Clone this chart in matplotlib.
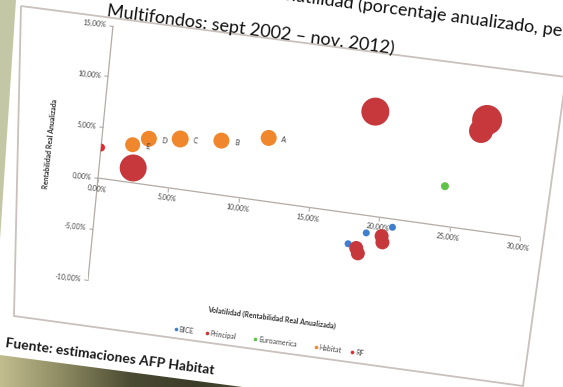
import numpy as np
import matplotlib
matplotlib.use("Agg")
import matplotlib.pyplot as plt
from matplotlib.transforms import Affine2D
from matplotlib.patches import Polygon
from matplotlib.colors import LinearSegmentedColormap
from mpl_toolkits.axisartist import floating_axes
from mpl_toolkits.axisartist.grid_finder import FixedLocator, DictFormatter

plt.rcParams['font.family'] = ['Lato', 'DejaVu Sans']

# volatilidad (x, %) / rentabilidad real (y, %) / tamaño de burbuja
bice_x = [18.0, 19.2, 21.0]
bice_y = [-3.0, -1.7, -0.8]
bice_b = [7, 7, 7]

principal_x = [2.4, 19.0, 26.9, 26.55, 18.6, 18.75, 20.3, 20.4]
principal_y = [1.45, 10.2, 10.9, 9.75, -3.3, -3.8, -1.8, -2.4]
principal_b = [27, 28, 30, 24, 14, 14, 14, 14]

euro_x = [24.4]
euro_y = [3.9]
euro_b = [8]

habitat_x = [11.7, 8.4, 5.5, 3.3, 2.2]
habitat_y = [6.2, 5.3, 4.9, 4.5, 3.7]
habitat_b = [16, 16, 17, 16, 15]
habitat_lbl = ["A", "B", "C", "D", "E"]

rf_x = [0.0]
rf_y = [3.0]
rf_b = [8]

x_ticks = [0, 5, 10, 15, 20, 25, 30]
y_ticks = [-10, -5, 0, 5, 10, 15]

series = [
    ("BICE", bice_x, bice_y, bice_b, "#3f7fcf"),
    ("Principal", principal_x, principal_y, principal_b, "#c6383b"),
    ("Euroamerica", euro_x, euro_y, euro_b, "#5fc24a"),
    ("Habitat", habitat_x, habitat_y, habitat_b, "#f0872c"),
    ("RF", rf_x, rf_y, rf_b, "#e8262c"),
]

W, H = 563, 387
fig = plt.figure(figsize=(W / 100, H / 100), dpi=100)
fig.patch.set_facecolor("white")

# fondo de la diapositiva (pixeles, y hacia abajo)
bg = fig.add_axes([0, 0, 1, 1])
bg.axis("off")
bg.add_patch(Polygon([(0, 0), (16, 0), (0, 240)], closed=True,
                     facecolor="#c3c7a6", edgecolor="none", zorder=0))
cmap = LinearSegmentedColormap.from_list(
    "fondo", ["#c2bd8f", "#8a8860", "#4b4b33", "#3b3c28", "#4d4d36"])
grad = np.linspace(0, 1, 256)[None, :]
im = bg.imshow(grad, extent=(0, 260, 387, 352), cmap=cmap, aspect="auto", zorder=0)
im.set_clip_path(Polygon([(0, 355), (250, 388), (0, 388)], closed=True,
                         transform=bg.transData))
bg.add_patch(Polygon([(21, 6), (566, 77), (523, 386), (14, 316)], closed=True,
                     facecolor="none", edgecolor="#c9c1bd", lw=1.3, zorder=1))

# titulo
bg.text(372, 11, "Rentabilidad vs. Volatilidad (porcentaje anualizado, periodo",
        fontsize=13, color="#111111", rotation=-7.5, rotation_mode="anchor",
        ha="center", va="baseline")
bg.text(250, 35, "Multifondos: sept 2002 – nov. 2012)",
        fontsize=13, color="#111111", rotation=-7.5, rotation_mode="anchor",
        ha="center", va="baseline")
bg.text(5, 347, "Fuente: estimaciones AFP Habitat", fontsize=10,
        fontweight="bold", color="#1a1a1a", rotation=-7.5,
        rotation_mode="anchor", ha="left", va="baseline")

bg.text(50, 144, "Rentabilidad Real Anualizada", fontsize=5, fontweight="bold",
        color="#333333", rotation=84, rotation_mode="anchor",
        ha="center", va="center")
bg.text(272, 318, "Volatilidad (Rentabilidad Real Anualizada)", fontsize=5,
        fontweight="bold", color="#333333", rotation=-7.5,
        rotation_mode="anchor", ha="center", va="center")

# leyenda
ang = np.deg2rad(7.5)
d = np.array([np.cos(ang), np.sin(ang)])
p0 = np.array([176, 329])
for (name, *_, col), off in zip(series, [0, 31, 80, 141, 178]):
    p = p0 + off * d
    bg.plot(p[0], p[1], "o", ms=2.6, color=col, mec="none", zorder=3)
    q = p + 3 * d
    bg.text(q[0], q[1], name, fontsize=5, color="#444444", rotation=-7.5,
            rotation_mode="anchor", ha="left", va="center")

bg.set_xlim(0, W)
bg.set_ylim(H, 0)

# area de grafico girada
tr = Affine2D(np.array([[14.06, 1.0, 98.0],
                        [-1.96, 10.16, 209.0],
                        [0.0, 0.0, 1.0]]))


def pct(v):
    return f"{v:.2f}".replace(".", ",") + "%"


gh = floating_axes.GridHelperCurveLinear(
    tr, extremes=(0, 30, -10, 15),
    grid_locator1=FixedLocator(x_ticks),
    grid_locator2=FixedLocator(y_ticks),
    tick_formatter1=DictFormatter({v: pct(v) for v in x_ticks}),
    tick_formatter2=DictFormatter({v: pct(v) for v in y_ticks}))

corners = tr.transform([(0, -10), (30, -10), (30, 15), (0, 15)])
x0, y0 = corners.min(axis=0)
x1, y1 = corners.max(axis=0)
ax = fig.add_axes([x0 / W, y0 / H, (x1 - x0) / W, (y1 - y0) / H],
                  axes_class=floating_axes.FloatingAxes, grid_helper=gh)
ax.set_xlim(x0, x1)
ax.set_ylim(y0, y1)
ax.patch.set_facecolor("none")
ax.patch.zorder = 0.9

for k in ["bottom", "right", "top"]:
    ax.axis[k].set_visible(False)
ax.axis["x0"] = ax.new_floating_axis(1, 0.0)

for k in ["left", "x0"]:
    a = ax.axis[k]
    a.line.set_color("#b3aba6")
    a.line.set_linewidth(0.9)
    a.major_ticks.set_tick_out(True)
    a.major_ticks.set_ticksize(3)
    a.major_ticks.set_color("#b3aba6")
    a.major_ticklabels.set_fontsize(5)
    a.major_ticklabels.set_color("#444444")
    a.major_ticklabels.set_pad(2)
    a.label.set_visible(False)

aux = ax.get_aux_axes(tr)
aux.patch = ax.patch

for name, xs, ys, bs, col in series:
    aux.scatter(xs, ys, s=(np.array(bs) * 0.72) ** 2, color=col,
                edgecolors="none", zorder=3)

for xv, yv, lb in zip(habitat_x, habitat_y, habitat_lbl):
    aux.annotate(lb, (xv, yv), xytext=(9, -1.5), textcoords="offset points",
                 fontsize=5, color="#333333", rotation=-7.5,
                 ha="left", va="center", zorder=4)

fig.savefig("out.png", dpi=100)
